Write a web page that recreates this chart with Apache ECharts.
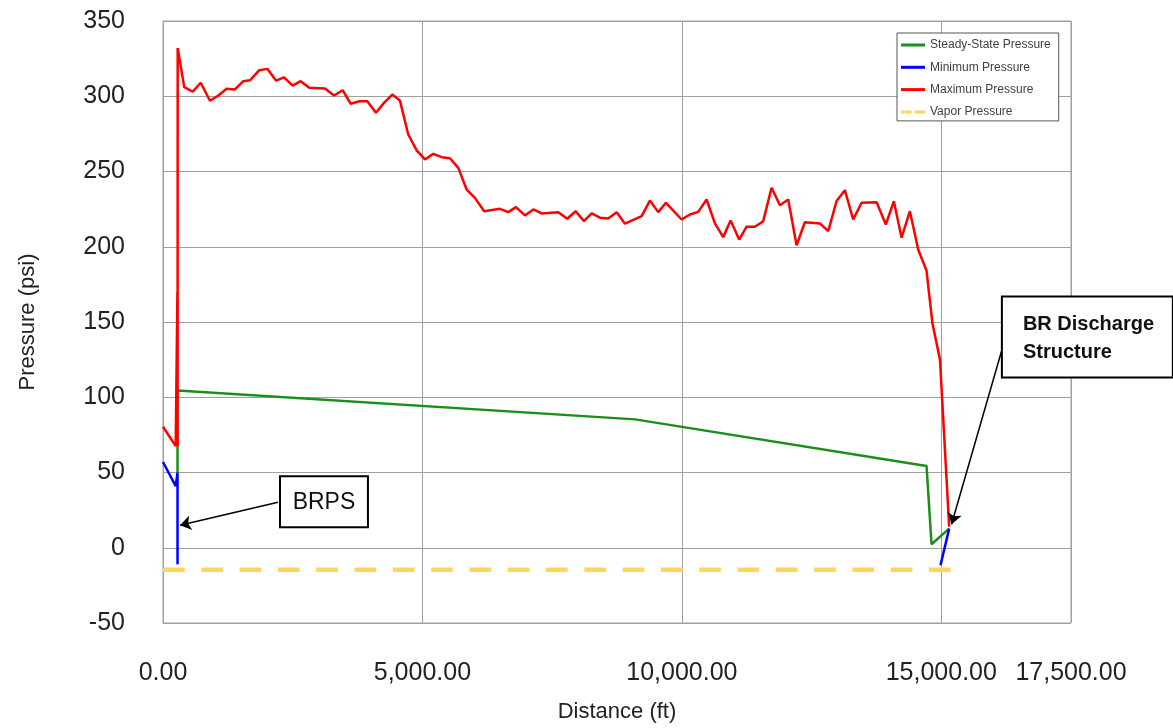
<!DOCTYPE html>
<html>
<head>
<meta charset="utf-8">
<title>Pressure profile</title>
<script src="https://cdn.jsdelivr.net/npm/echarts@6/dist/echarts.min.js"></script>
<style>
    html, body { margin: 0; padding: 0; background: #fff; }
    #echart { width: 1173px; height: 728px; }
</style>
</head>
<body>
<div id="echart"></div>
<script>
// 最大压力 (distance ft / pressure psi)
var maxDist = [0, 245, 278, 281, 283, 410, 572, 726, 906, 1066, 1227, 1387, 1548, 1676, 1856, 2010, 2178, 2332,
    2499, 2653, 2820, 3122, 3295, 3463, 3617, 3783, 3937, 4105, 4259, 4419, 4567, 4727, 4889, 5049, 5209, 5371,
    5530, 5691, 5852, 6012, 6190, 6494, 6654, 6802, 6976, 7136, 7297, 7617, 7791, 7953, 8113, 8261, 8421, 8581,
    8743, 8903, 9225, 9384, 9545, 9693, 9995, 10155, 10315, 10477, 10637, 10797, 10940, 11105, 11248, 11408,
    11568, 11729, 11890, 12050, 12211, 12371, 12660, 12821, 12982, 13142, 13302, 13464, 13753, 13932, 14086,
    14235, 14395, 14555, 14716, 14830, 14975, 15152];
var maxPsi = [80.4, 67.5, 170, 67.5, 332, 306, 303, 309, 297, 300.5, 305, 304.5, 310, 310.6, 317.3, 318.2, 310.4, 312.6,
    307.1, 310, 305.6, 305.1, 300.5, 304, 295, 296.7, 296.7, 289, 295.6, 301.1, 297.1, 274.6, 264, 258, 261.7, 259.5,
    258.8, 252.4, 238, 232.5, 223.6, 225.2, 223, 226.3, 220.8, 224.8, 222.1, 223, 218.6, 223.6, 217, 222.1, 219.3, 218.8,
    223, 215.3, 220.3, 230.7, 223, 229.2, 218.1, 221.4, 223.2, 231.4, 215.5, 206.4, 217.5, 204.8, 213.3, 213.3,
    217, 239.2, 227.6, 231.4, 201, 216.3, 215.5, 210.4, 230.4, 237.6, 218.1, 229.2, 229.6, 214.8, 230.3,
    206, 223.6, 198.2, 184, 149, 125, 14];

// 稳态压力
var steadyDist = [280, 280, 9100, 14716, 14812, 15152];
var steadyPsi = [50, 104.5, 85.3, 54.3, 2.3, 12.7];

// 最小压力 (two pieces)
var minDistA = [0, 245, 280, 280];
var minPsiA = [57, 41, 50, -11];
var minDistB = [14985, 15152];
var minPsiB = [-11.6, 12.7];

// 汽化压力
var vaporDist = [0, 15180];
var vaporPsi = [-14.7, -14.7];

// 坐标轴
var xMin = 0, xMax = 17500, xStep = 5000;
var yMin = -50, yMax = 350, yStep = 50;

// 标注
var noteText = ['BRPS', 'BR Discharge\nStructure'];
var noteBoxFrom = [[2255, 47.5], [16168, 167]];
var noteBoxTo = [[3950, 13.6], [19463, 113.2]];
var arrowFrom = [[2216, 30.2], [16162, 130.7]];
var arrowTo = [[328, 14.9], [15198, 15.6]];

function zip(xs, ys) {
    var out = [];
    for (var i = 0; i < xs.length; i++) out.push([xs[i], ys[i]]);
    return out;
}

var font = "'Liberation Sans', Arial, sans-serif";
var gridColor = '#a0a0a0';

function lineSeries(name, color, width, data, dash) {
    return {
        name: name,
        type: 'line',
        data: data,
        symbol: 'none',
        showSymbol: false,
        color: color,
        itemStyle: { color: color },
        lineStyle: { color: color, width: width, type: dash || 'solid', cap: 'butt' },
        emphasis: { disabled: true },
        z: 2
    };
}

var myChart = echarts.init(document.getElementById('echart'));

var vapor = lineSeries('Vapor Pressure', '#ffd65c', 4.5, zip(vaporDist, vaporPsi), [21.7, 16.6]);
var arrows = [];
for (var i = 0; i < arrowFrom.length; i++) {
    arrows.push([{ coord: arrowFrom[i] }, { coord: arrowTo[i] }]);
}
vapor.markLine = {
    silent: true,
    symbol: ['none', 'arrow'],
    symbolSize: 11,
    label: { show: false },
    lineStyle: { color: '#000', width: 1.5, type: 'solid' },
    emphasis: { disabled: true },
    data: arrows
};

var option = {
    animation: false,
    grid: {
        left: 163, right: 102, top: 21, bottom: 104,
        show: true, borderColor: gridColor, borderWidth: 1
    },
    legend: {
        orient: 'vertical',
        left: 897, top: 33,
        padding: [6, 8, 3, 4],
        itemGap: 10.3,
        itemWidth: 24,
        itemHeight: 3,
        selectedMode: false,
        backgroundColor: '#fff',
        borderColor: '#555',
        borderWidth: 1,
        textStyle: { fontFamily: font, fontSize: 12, color: '#404040' },
        data: [
            { name: 'Steady-State Pressure', icon: 'rect' },
            { name: 'Minimum Pressure', icon: 'rect' },
            { name: 'Maximum Pressure', icon: 'rect' },
            { name: 'Vapor Pressure', icon: 'path://M0,0H10.5V3H0Z M13.5,0H24V3H13.5Z' }
        ]
    },
    xAxis: {
        type: 'value',
        min: xMin, max: xMax, interval: xStep,
        name: 'Distance (ft)',
        nameLocation: 'middle',
        nameGap: 78,
        nameTextStyle: { fontFamily: font, fontSize: 22, color: '#222' },
        axisLine: { show: false },
        axisTick: { show: false },
        axisLabel: {
            margin: 38, fontFamily: font, fontSize: 25, color: '#222',
            formatter: function (v) {
                return Number(v).toLocaleString('en-US', { minimumFractionDigits: 2, maximumFractionDigits: 2 });
            }
        },
        splitLine: { show: true, lineStyle: { color: gridColor, width: 1 } }
    },
    yAxis: {
        type: 'value',
        min: yMin, max: yMax, interval: yStep,
        name: 'Pressure (psi)',
        nameLocation: 'middle',
        nameGap: 124,
        nameRotate: 90,
        nameTextStyle: { fontFamily: font, fontSize: 22, color: '#222' },
        axisLine: { show: false },
        axisTick: { show: false },
        axisLabel: { margin: 38, fontFamily: font, fontSize: 25, color: '#222' },
        splitLine: { show: true, lineStyle: { color: gridColor, width: 1 } }
    },
    series: [
        vapor,
        lineSeries('Steady-State Pressure', '#1a8f1a', 2.5, zip(steadyDist, steadyPsi)),
        lineSeries('Minimum Pressure', '#0000ff', 2.5, zip(minDistA, minPsiA)),
        lineSeries('Minimum Pressure', '#0000ff', 2.5, zip(minDistB, minPsiB)),
        lineSeries('Maximum Pressure', '#ff0000', 2.5, zip(maxDist, maxPsi))
    ]
};

myChart.setOption(option);

// 标注框，按数据坐标定位
function drawNotes() {
    var items = [];
    for (var i = 0; i < noteText.length; i++) {
        var p1 = myChart.convertToPixel({ gridIndex: 0 }, noteBoxFrom[i]);
        var p2 = myChart.convertToPixel({ gridIndex: 0 }, noteBoxTo[i]);
        items.push({
            type: 'rect',
            z: 100,
            shape: { x: p1[0], y: p1[1], width: p2[0] - p1[0], height: p2[1] - p1[1] },
            style: { fill: '#fff', stroke: '#000', lineWidth: 2 }
        });
        var first = i === 0;
        items.push({
            type: 'text',
            z: 101,
            x: first ? (p1[0] + p2[0]) / 2 : p1[0] + 21,
            y: (p1[1] + p2[1]) / 2 + (first ? 1 : 2),
            style: {
                text: noteText[i],
                fill: '#111',
                fontFamily: font,
                fontSize: first ? 23 : 20,
                fontWeight: first ? 'normal' : 'bold',
                lineHeight: 28,
                align: first ? 'center' : 'left',
                verticalAlign: 'middle'
            }
        });
    }
    myChart.setOption({ graphic: items });
}

drawNotes();
</script>
</body>
</html>
